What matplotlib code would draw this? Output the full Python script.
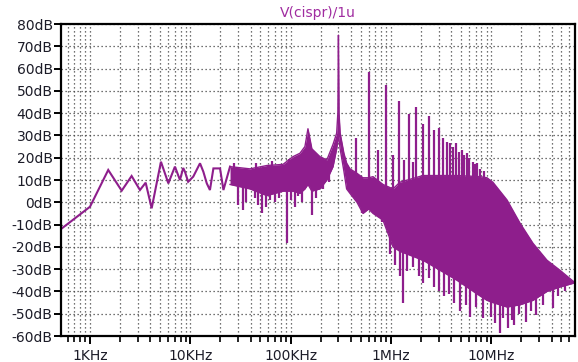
import numpy as np
import matplotlib
matplotlib.use("Agg")
import matplotlib.pyplot as plt
from matplotlib.ticker import FixedLocator, FuncFormatter, LogLocator, NullFormatter

# ---------------- data ----------------
# sparse low-frequency part of the trace
lf_freq = [514, 1000, 1520, 2070, 2600, 3150, 3590, 4120, 5100, 6040, 7030, 7890,
           8500, 8850, 9520, 10700, 12500, 13500, 14600, 15700, 17000, 19800, 21400, 24900]
lf_db = [-12, -2, 14.5, 5.2, 11.8, 5.5, 8.8, -2.7, 18.2, 8.5, 16, 10,
         15.4, 13.7, 9.2, 11.5, 17.5, 13.7, 8.5, 5.5, 15.2, 15.2, 5.5, 16]

# dense part of the spectrum: upper and lower envelope
band_freq = [24.9e3, 39.4e3, 58e3, 84e3, 106e3, 124e3, 139e3, 149e3, 163e3, 196e3,
             230e3, 265e3, 288e3, 296e3, 300e3, 304e3, 312e3, 340e3, 362e3, 391e3,
             459e3, 527e3, 600e3, 664e3, 834e3, 1.05e6, 1.23e6, 2.09e6, 4.56e6,
             7.73e6, 9.08e6, 10.4e6, 14.4e6, 19.4e6, 26.1e6, 36e6, 48.5e6, 64e6, 68.5e6]
band_hi = [16, 15, 16.5, 17, 20.5, 22, 25, 33, 24, 20.5,
           19, 26, 31, 40, 75, 40, 31, 22, 17.6, 15,
           13, 11, 11, 11.5, 8, 6, 9, 12, 12,
           11.5, 11, 9, 1, -9.4, -18.4, -26, -30.5, -35, -36]
band_lo = [8, 6, 3, 5, 5, 4, 6, 8, 5, 6,
           10, 16, 24, 28, 30, 28, 24, 14, 6, 4,
           0, -5, -3, -5, -8, -20, -22, -26, -35,
           -42, -44, -45, -47, -46, -44, -40, -38, -36.5, -36]

# harmonic spikes and small upward spikes
peak_freq = [27e3, 45e3, 66e3, 96e3, 450e3, 600e3, 750e3, 900e3, 1.05e6, 1.2e6, 1.35e6,
             1.5e6, 1.65e6, 1.8e6, 2.1e6, 2.4e6, 2.7e6, 3.0e6, 3.3e6, 3.6e6, 3.9e6,
             4.2e6, 4.5e6, 4.8e6, 5.1e6, 5.4e6, 5.7e6, 6.0e6, 6.6e6, 6.9e6, 7.2e6,
             7.8e6, 8.4e6]
peak_db = [17.5, 17.5, 18.5, 19.5, 28.7, 58.6, 23.5, 52.6, 21, 45.5, 19,
           39.5, 18, 42.8, 35, 38.5, 32.5, 33.2, 28.7, 27, 26.5,
           25, 26.5, 22.5, 23.5, 21, 22, 20, 18.2, 17, 17.5,
           15, 14]

# downward dips
dip_freq = [30e3, 33.7e3, 36e3, 44e3, 47e3, 51.5e3, 57e3, 62e3, 70e3, 77e3,
            91.4e3, 100e3, 110e3, 118e3, 130e3, 163e3, 180e3, 210e3, 240e3,
            510e3, 810e3, 980e3, 1.1e6, 1.24e6, 1.33e6, 1.45e6, 1.66e6, 1.9e6,
            2.1e6, 2.4e6, 2.7e6, 3.0e6, 3.4e6, 3.8e6, 4.3e6, 4.9e6, 5.6e6, 6.1e6,
            7.0e6, 8.3e6, 9.9e6, 11e6, 12.2e6, 13e6, 14.6e6, 16e6, 17e6, 19e6,
            22.4e6, 25e6, 28e6, 33e6, 41e6, 46e6, 55e6]
dip_db = [-1, -3.5, 0, 2, -1, -4.8, -2, 1, 0, 2,
          -18.4, 1, -2, 3, 0, -5.7, 2, 6, 9,
          -5, -9, -23, -28, -33, -45.3, -31, -29, -33,
          -36.4, -34, -38, -40, -42, -41, -45, -49, -46, -51.3,
          -47, -52, -51.3, -54, -58.8, -52, -56.5, -53, -55, -50,
          -53.6, -49, -50.6, -46, -47.6, -42, -40]

x_ticks = [1e3, 1e4, 1e5, 1e6, 1e7]
x_tick_labels = ["1KHz", "10KHz", "100KHz", "1MHz", "10MHz"]
y_ticks = list(range(-60, 81, 10))

# ---------------- drawing ----------------
trace = "#8E1E8C"
txt = "#1c1c28"

fig = plt.figure(figsize=(5.78, 3.62), dpi=100)
ax = fig.add_axes([61/578, 1-336/362, (575-61)/578, (336-24)/362])
ax.set_xscale("log")
ax.set_xlim(514, 68.5e6)
ax.set_ylim(-60, 80)

# grid
ax.set_axisbelow(True)
ax.grid(True, which="major", axis="both", color="#444444", linestyle=(0, (1, 2.2)), linewidth=0.9)
ax.grid(True, which="minor", axis="x", color="#444444", linestyle=(0, (1, 2.2)), linewidth=0.9)

lw = 1.5
ax.plot(lf_freq, lf_db, color=trace, lw=lw, solid_joinstyle="miter")
ax.fill_between(band_freq, band_lo, band_hi, color=trace, lw=0)
ax.plot(band_freq, band_hi, color=trace, lw=1.0)
ax.plot(band_freq, band_lo, color=trace, lw=1.0)

lbf = np.log10(band_freq)
pk_base = np.interp(np.log10(peak_freq), lbf, band_hi) - 1
ax.vlines(peak_freq, pk_base, peak_db, color=trace, lw=1.6)
dp_base = np.interp(np.log10(dip_freq), lbf, band_lo) + 1
ax.vlines(dip_freq, dip_db, dp_base, color=trace, lw=1.6)

# axes styling
for s in ax.spines.values():
    s.set_linewidth(1.6)
    s.set_color("black")

ax.xaxis.set_major_locator(FixedLocator(x_ticks))
ax.xaxis.set_major_formatter(FuncFormatter(lambda v, p: x_tick_labels[x_ticks.index(v)] if v in x_ticks else ""))
ax.xaxis.set_minor_locator(LogLocator(base=10, subs=np.arange(2, 10), numticks=20))
ax.xaxis.set_minor_formatter(NullFormatter())
ax.yaxis.set_major_locator(FixedLocator(y_ticks))
ax.yaxis.set_major_formatter(FuncFormatter(lambda v, p: f"{int(round(v))}dB"))

ax.tick_params(axis="x", which="major", direction="out", length=6, width=1.4, colors="black",
               labelcolor=txt, labelsize=10, pad=3)
ax.tick_params(axis="x", which="minor", direction="out", length=4, width=1.2, colors="black")
ax.tick_params(axis="y", which="major", direction="out", length=5, width=1.4, colors="black",
               labelcolor=txt, labelsize=10, pad=1)

fig.text(318/578, 1-13/362, "V(cispr)/1u", color="#A02CA0", ha="center", va="center", fontsize=10)

fig.savefig("out.png", dpi=100, facecolor="white")
